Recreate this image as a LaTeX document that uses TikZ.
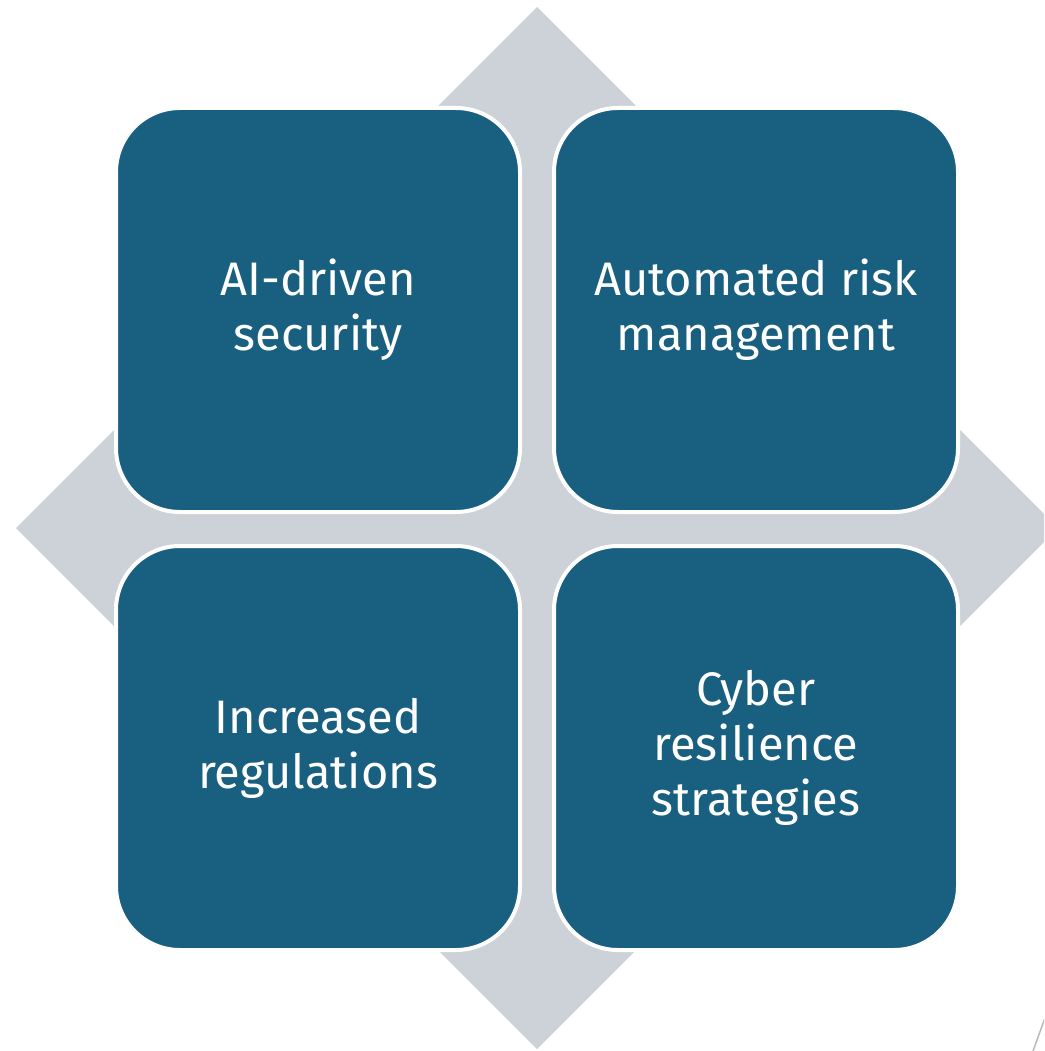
\documentclass[tikz,border=0pt]{standalone}
\usepackage{fontspec}
\setmainfont{Fira Sans}[Ligatures=NoCommon]
\definecolor{boxblue}{RGB}{24,95,128}
\definecolor{diamondgray}{RGB}{205,210,216}
\begin{document}
\begin{tikzpicture}[x=1pt,y=-1pt,
  quad/.style={rectangle, rounded corners=64pt, fill=boxblue, draw=white,
    line width=4pt, minimum width=404pt, minimum height=404pt,
    text=white, align=center, inner sep=0pt,
    font=\fontsize{47}{55}\selectfont}]
\useasboundingbox (0,0) rectangle (1044,1051);
\clip (0,0) rectangle (1044,1051);
\fill[diamondgray] (537,7) -- (1058,528) -- (537,1049) -- (16,528) -- cycle;
\node[quad] (tl) at (318,310) {AI-driven\\security};
\node[quad] (tr) at (756,310) {Automated risk\\management};
\node[quad] (bl) at (318,748) {Increased\\regulations};
\node[quad] (br) at (756,748) {Cyber\\resilience\\strategies};
\draw[gray!55, line width=1.5pt] (1033,1051) -- (1045,1018);
\end{tikzpicture}
\end{document}
